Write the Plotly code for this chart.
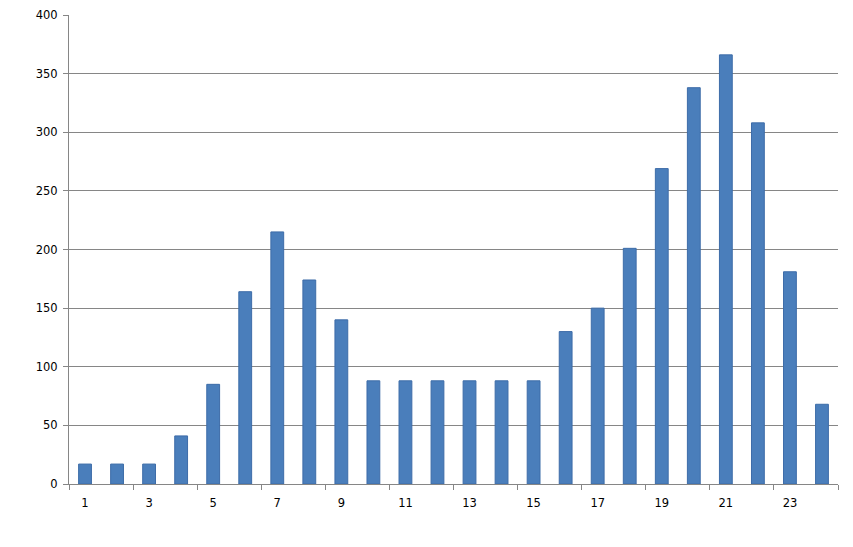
import plotly.graph_objects as go

categories = list(range(1, 25))
values = [17, 17, 17, 41, 85, 164, 215, 174, 140, 88, 88, 88, 88, 88, 88, 130,
          150, 201, 269, 338, 366, 308, 181, 68]
x_tick_labels = [str(i) for i in range(1, 24, 2)]
y_ticks = list(range(0, 401, 50))

axis_color = "#868686"
font = dict(family="DejaVu Sans, Verdana, sans-serif", size=11.5, color="#000000")

fig = go.Figure()
fig.add_trace(go.Bar(
    x=categories, y=values, width=0.4,
    marker=dict(color="#4a7ebb", line=dict(color="#3d6ca8", width=1)),
    showlegend=False,
))
# invisible trace on overlay axis to carry boundary tick marks
fig.add_trace(go.Scatter(x=[0.5, 24.5], y=[0, 0], xaxis="x2", mode="markers",
                         marker=dict(opacity=0), showlegend=False, hoverinfo="skip"))

fig.update_layout(
    width=853, height=547,
    margin=dict(l=61, r=23, t=7, b=71),
    paper_bgcolor="white", plot_bgcolor="white",
    font=font,
    xaxis=dict(
        range=[0.5, 24.5],
        tickmode="array",
        tickvals=list(range(1, 24, 2)),
        ticktext=x_tick_labels,
        ticks="", showgrid=False, zeroline=False,
        showline=True, linecolor=axis_color, linewidth=1,
        ticklabelstandoff=8, automargin=False,
    ),
    xaxis2=dict(
        range=[0.5, 24.5], overlaying="x", anchor="y",
        tickmode="array", tickvals=[0.5 + 2 * i for i in range(13)],
        ticks="outside", ticklen=5, tickcolor=axis_color,
        showticklabels=False, showgrid=False, zeroline=False, showline=False,
        automargin=False,
    ),
    yaxis=dict(
        range=[0, 400],
        tickmode="array", tickvals=y_ticks,
        ticks="outside", ticklen=5, tickcolor=axis_color,
        showgrid=True, gridcolor=axis_color, gridwidth=1,
        zeroline=False,
        showline=True, linecolor=axis_color, linewidth=1,
        automargin=False, ticklabelstandoff=3,
    ),
    bargap=0.6,
)

fig.write_html("out.html")
